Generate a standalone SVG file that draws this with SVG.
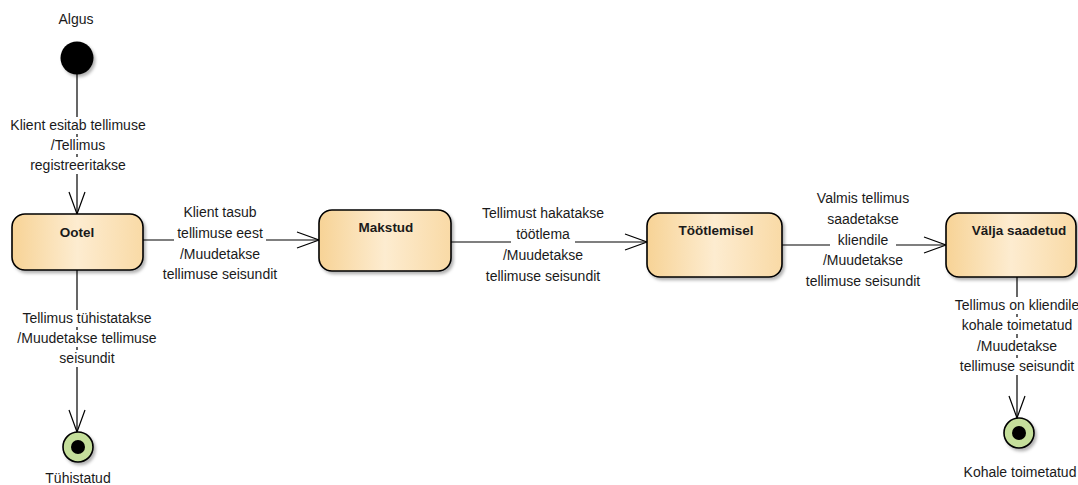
<svg xmlns="http://www.w3.org/2000/svg" width="1078" height="485" viewBox="0 0 1078 485">
  <style>
    .lbl { font-family: "Liberation Sans", Arial, sans-serif; font-size: 14px; fill: #1a1a1a; text-anchor: middle; }
    .name { font-family: "Liberation Sans", Arial, sans-serif; font-size: 13.5px; font-weight: bold; fill: #1a1a1a; text-anchor: middle; }
    .state { fill: url(#stateFill); stroke: #000; stroke-width: 1.6; filter: url(#shadow); }
    .edge { fill: none; stroke: #000; stroke-width: 1.2; }
    .gap { fill: #fff; }
    .final { fill: #c5df9b; stroke: #000; stroke-width: 1.6; filter: url(#shadow); }
  </style>
  <defs>
    <linearGradient id="stateFill" x1="0" y1="0" x2="1" y2="0">
      <stop offset="0" stop-color="#f7d396"/>
      <stop offset="0.5" stop-color="#fdecd0"/>
      <stop offset="1" stop-color="#f9daa6"/>
    </linearGradient>
    <filter id="shadow" x="-20%" y="-20%" width="140%" height="150%">
      <feDropShadow dx="2" dy="2.5" stdDeviation="1.5" flood-color="#000" flood-opacity="0.3"/>
    </filter>
    <marker id="open" markerUnits="userSpaceOnUse" markerWidth="26" markerHeight="20" refX="23" refY="9" orient="auto">
      <path d="M1,1 L23,9 L1,17" fill="none" stroke="#000" stroke-width="1.2"/>
    </marker>
  </defs>

  <!-- transitions -->
  <g id="connectors">
    <line class="edge" x1="77" y1="74" x2="77" y2="214" marker-end="url(#open)"/>
    <line class="edge" x1="143" y1="240" x2="319" y2="240" marker-end="url(#open)"/>
    <line class="edge" x1="451" y1="242" x2="647" y2="242" marker-end="url(#open)"/>
    <line class="edge" x1="782" y1="245" x2="946" y2="245" marker-end="url(#open)"/>
    <line class="edge" x1="77" y1="270" x2="77" y2="432" marker-end="url(#open)"/>
    <line class="edge" x1="1017" y1="277" x2="1017" y2="418" marker-end="url(#open)"/>

    <!-- label: initial -> Ootel -->
    <g>
      <rect class="gap" x="67" y="117" width="20" height="17"/>
      <rect class="gap" x="67" y="137" width="20" height="17"/>
      <rect class="gap" x="67" y="157" width="20" height="17"/>
      <text class="lbl" x="78" y="130">Klient esitab tellimuse</text>
      <text class="lbl" x="78" y="150">/Tellimus</text>
      <text class="lbl" x="78" y="170">registreeritakse</text>
    </g>
    <!-- label: Ootel -> Makstud -->
    <g>
      <rect class="gap" x="174" y="225" width="92" height="17"/>
      <text class="lbl" x="220" y="217">Klient tasub</text>
      <text class="lbl" x="220" y="238">tellimuse eest</text>
      <text class="lbl" x="220" y="259">/Muudetakse</text>
      <text class="lbl" x="220" y="279">tellimuse seisundit</text>
    </g>
    <!-- label: Makstud -> Töötlemisel -->
    <g>
      <rect class="gap" x="511" y="226" width="64" height="17"/>
      <text class="lbl" x="543" y="218">Tellimust hakatakse</text>
      <text class="lbl" x="543" y="239">töötlema</text>
      <text class="lbl" x="543" y="260">/Muudetakse</text>
      <text class="lbl" x="543" y="281">tellimuse seisundit</text>
    </g>
    <!-- label: Töötlemisel -> Välja saadetud -->
    <g>
      <rect class="gap" x="830" y="233" width="66" height="17"/>
      <text class="lbl" x="863" y="203">Valmis tellimus</text>
      <text class="lbl" x="863" y="224">saadetakse</text>
      <text class="lbl" x="863" y="245">kliendile</text>
      <text class="lbl" x="863" y="265">/Muudetakse</text>
      <text class="lbl" x="863" y="286">tellimuse seisundit</text>
    </g>
    <!-- label: Ootel -> Tühistatud -->
    <g>
      <rect class="gap" x="67" y="310" width="20" height="17"/>
      <rect class="gap" x="67" y="330" width="20" height="17"/>
      <rect class="gap" x="67" y="350" width="20" height="17"/>
      <text class="lbl" x="87" y="323">Tellimus tühistatakse</text>
      <text class="lbl" x="87" y="343">/Muudetakse tellimuse</text>
      <text class="lbl" x="87" y="363">seisundit</text>
    </g>
    <!-- label: Välja saadetud -> Kohale toimetatud -->
    <g>
      <rect class="gap" x="1007" y="297" width="20" height="17"/>
      <rect class="gap" x="1007" y="317" width="20" height="17"/>
      <rect class="gap" x="1007" y="338" width="20" height="17"/>
      <rect class="gap" x="1007" y="358" width="20" height="17"/>
      <text class="lbl" x="1017" y="310">Tellimus on kliendile</text>
      <text class="lbl" x="1017" y="330">kohale toimetatud</text>
      <text class="lbl" x="1017" y="351">/Muudetakse</text>
      <text class="lbl" x="1017" y="371">tellimuse seisundit</text>
    </g>
  </g>

  <!-- initial pseudo-state -->
  <g id="algus">
    <text class="lbl" x="76" y="24">Algus</text>
    <circle cx="77" cy="58" r="16.5" fill="#000" filter="url(#shadow)"/>
  </g>

  <!-- states -->
  <g id="ootel">
    <rect class="state" x="12" y="214" width="131" height="56" rx="13"/>
    <text class="name" x="77" y="237">Ootel</text>
  </g>
  <g id="makstud">
    <rect class="state" x="319" y="210" width="132" height="61" rx="13"/>
    <text class="name" x="386" y="232">Makstud</text>
  </g>
  <g id="tootlemisel">
    <rect class="state" x="647" y="213" width="135" height="64" rx="13"/>
    <text class="name" x="716" y="235">Töötlemisel</text>
  </g>
  <g id="valja-saadetud">
    <rect class="state" x="946" y="213" width="130" height="64" rx="13"/>
    <text class="name" x="1019" y="235">Välja saadetud</text>
  </g>

  <!-- final states -->
  <g id="tuhistatud">
    <circle class="final" cx="78" cy="447" r="15"/>
    <circle cx="78" cy="447" r="7" fill="#000"/>
    <text class="lbl" x="78" y="483">Tühistatud</text>
  </g>
  <g id="kohale-toimetatud">
    <circle class="final" cx="1019" cy="433" r="15"/>
    <circle cx="1019" cy="433" r="7" fill="#000"/>
    <text class="lbl" x="1020" y="477">Kohale toimetatud</text>
  </g>
</svg>
